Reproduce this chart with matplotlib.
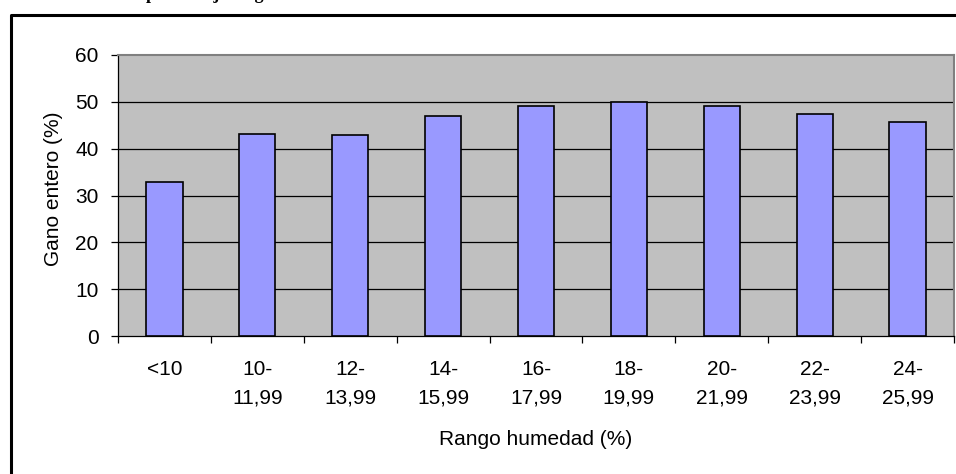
import numpy as np
import matplotlib
matplotlib.use("Agg")
import matplotlib.pyplot as plt
from matplotlib.lines import Line2D

# Grano entero por rango de humedad
rangos = ["<10", "10-\n11,99", "12-\n13,99", "14-\n15,99", "16-\n17,99",
          "18-\n19,99", "20-\n21,99", "22-\n23,99", "24-\n25,99"]
grano_entero = [32.8, 43.1, 43.0, 46.9, 49.1, 49.9, 49.1, 47.4, 45.7]
y_ticks = [0, 10, 20, 30, 40, 50, 60]

W, H = 956, 474
FS = 15
plt.rcParams['font.family'] = ['Liberation Sans', 'DejaVu Sans']

fig = plt.figure(figsize=(W / 100, H / 100), dpi=100)
ax = fig.add_axes([118 / W, 1 - 336 / H, 836 / W, 281 / H])

x = np.arange(len(rangos))
ax.bar(x, grano_entero, width=0.39, color="#9999ff", edgecolor="black",
       linewidth=1.2, zorder=3)

ax.set_facecolor("#c0c0c0")
ax.set_xlim(-0.5, len(rangos) - 0.5)
ax.set_ylim(0, 60)
ax.set_yticks(y_ticks)
ax.set_yticklabels([str(v) for v in y_ticks], fontsize=FS)
for v in y_ticks[1:-1]:
    ax.axhline(v, color="black", linewidth=0.9, zorder=1)

# ticks on category boundaries, labels at centres
ax.set_xticks(np.arange(-0.5, len(rangos), 1.0))
ax.set_xticklabels([])
ax.set_xticks(x, rangos, minor=True, fontsize=FS)
ax.tick_params(axis="x", which="major", direction="out", length=5, width=0.9)
ax.tick_params(axis="x", which="minor", length=0, pad=17.5)
ax.tick_params(axis="y", direction="out", length=5, width=0.9, pad=9)
for lbl in ax.get_xticklabels(minor=True):
    lbl.set_linespacing(1.6)

for side in ("top", "right"):
    ax.spines[side].set_color("#808080")
    ax.spines[side].set_linewidth(1.5)
for side in ("left", "bottom"):
    ax.spines[side].set_color("black")
    ax.spines[side].set_linewidth(0.9)

fig.text(536 / W, 1 - 445 / H, "Rango humedad (%)", ha="center",
         va="baseline", fontsize=FS)
fig.text(54 / W, 1 - 189 / H, "Gano entero (%)", ha="center", va="center",
         rotation=90, fontsize=FS)

# heading above the frame
fig.text(146 / W, 1 + 1.0 / H, "porcentaje de grano", ha="left",
         va="baseline", fontsize=13, fontweight="bold",
         family=["Liberation Serif", "DejaVu Serif"])

# outer frame
fx = 10.5 / W
fy = 1 - 14.5 / H
fig.add_artist(Line2D([fx, fx, 1.0], [0.0, fy, fy], color="black",
                      linewidth=2.2, transform=fig.transFigure))

fig.savefig("out.png", dpi=100)
